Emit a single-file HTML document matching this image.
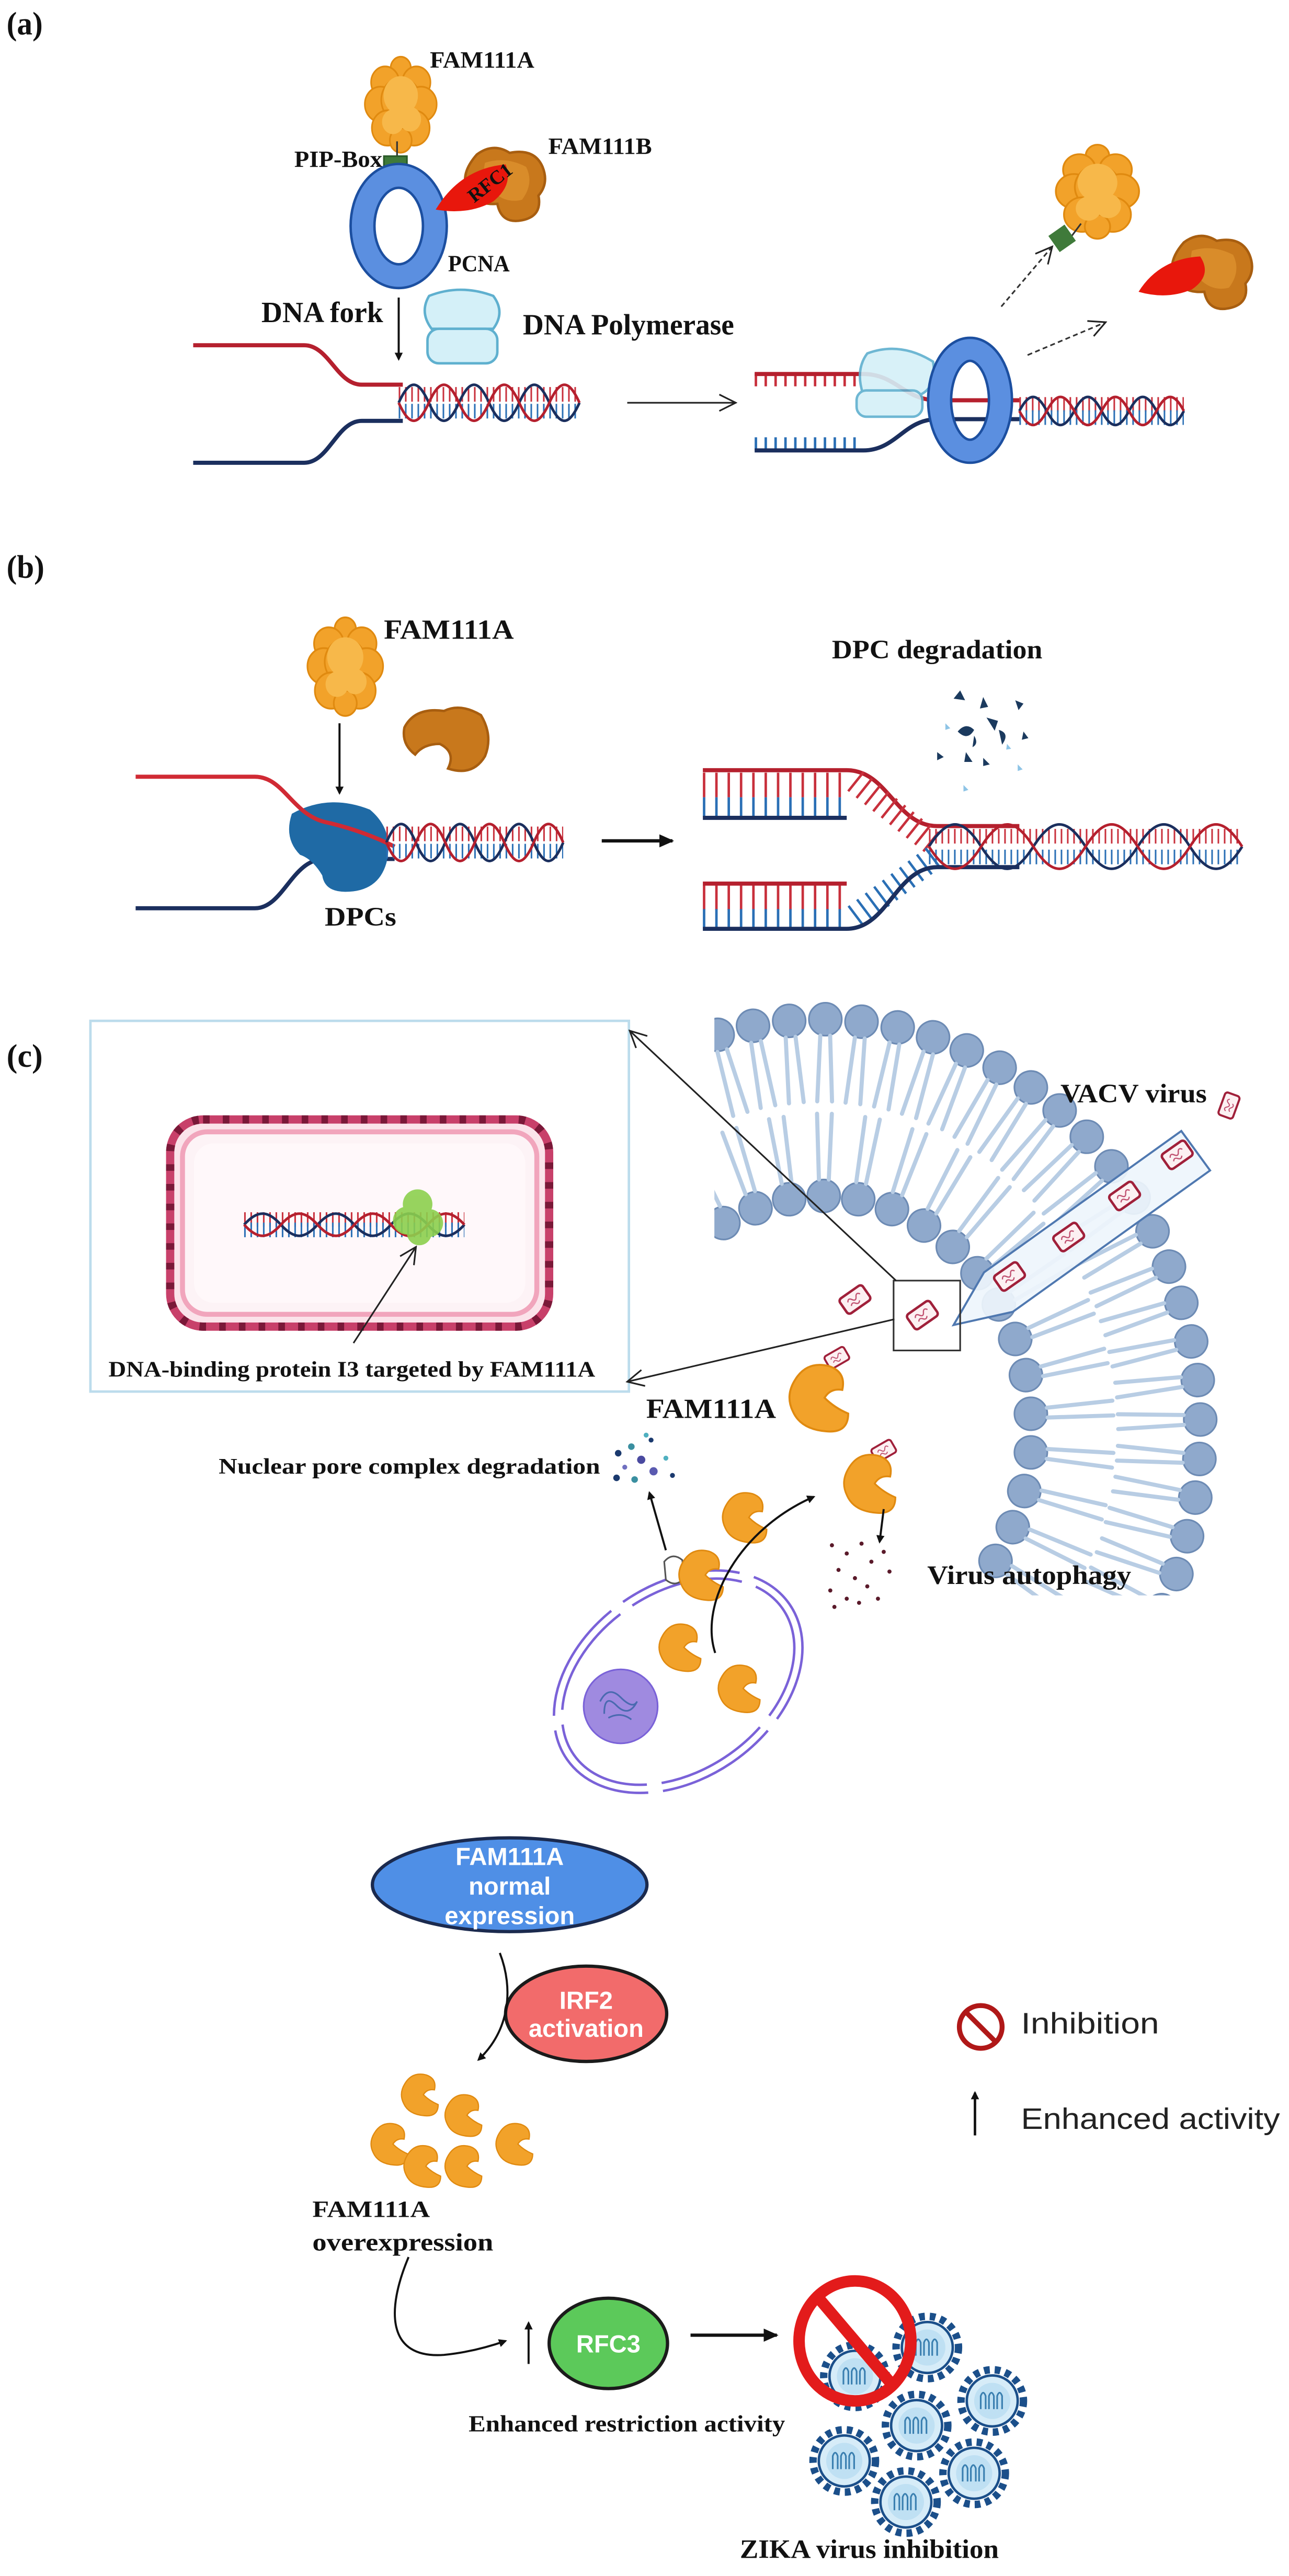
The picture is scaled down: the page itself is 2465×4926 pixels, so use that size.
<!DOCTYPE html>
<html><head><meta charset="utf-8"><style>
html,body{margin:0;padding:0;background:#fff}
svg{display:block}
.s{font-family:"Liberation Serif",serif;font-weight:bold;fill:#111}
.w{font-family:"Liberation Sans",sans-serif;font-weight:bold;fill:#fff;text-anchor:middle}
.n{font-family:"Liberation Sans",sans-serif;fill:#222}
</style></head><body>
<svg width="2465" height="4926" viewBox="0 0 1568 3134" preserveAspectRatio="none" xmlns="http://www.w3.org/2000/svg">
<defs>
<marker id="ah" markerWidth="10" markerHeight="10" refX="8" refY="5" orient="auto" markerUnits="userSpaceOnUse"><path d="M0,0 L10,5 L0,10 Z" fill="#111"/></marker>
<marker id="ao" markerWidth="24" markerHeight="24" refX="22" refY="12" orient="auto" markerUnits="userSpaceOnUse"><path d="M2,2 L22,12 L2,22" fill="none" stroke="#222" stroke-width="2"/></marker>
<marker id="ab" markerWidth="20" markerHeight="20" refX="16" refY="10" orient="auto" markerUnits="userSpaceOnUse"><path d="M0,2 L18,10 L0,18 Z" fill="#111"/></marker>
<g id="hx">
 <line x1="0" y1="-14" x2="300" y2="-14" stroke="#c8303c" stroke-width="28" stroke-dasharray="3 9" vector-effect="non-scaling-stroke"/>
 <line x1="0" y1="14" x2="300" y2="14" stroke="#2a6fb5" stroke-width="28" stroke-dasharray="3 9" vector-effect="non-scaling-stroke"/>
 <path d="M0,0 C18,-40 32,-40 50,0 S82,40 100,0 S132,-40 150,0 S182,40 200,0 S232,-40 250,0 S282,40 300,0" fill="none" stroke="#1b2f5e" stroke-width="5" vector-effect="non-scaling-stroke"/>
 <path d="M0,0 C18,40 32,40 50,0 S82,-40 100,0 S132,40 150,0 S182,-40 200,0 S232,40 250,0 S282,-40 300,0" fill="none" stroke="#b5202e" stroke-width="5" vector-effect="non-scaling-stroke"/>
</g>
<g id="famA">
 <g fill="#f2a22a" stroke="#e08a10" stroke-width="2">
 <circle cx="50" cy="14" r="13"/><circle cx="30" cy="30" r="18"/><circle cx="70" cy="30" r="18"/>
 <circle cx="24" cy="55" r="20"/><circle cx="50" cy="50" r="25"/><circle cx="76" cy="55" r="20"/>
 <circle cx="33" cy="82" r="20"/><circle cx="67" cy="82" r="20"/><circle cx="50" cy="96" r="14"/></g>
 <g fill="#f7b84a"><circle cx="50" cy="45" r="22"/><circle cx="40" cy="75" r="14"/><circle cx="62" cy="72" r="14"/></g>
</g>
<g id="famB">
 <path d="M20,10 Q40,-5 60,8 Q90,2 100,25 Q108,45 95,60 Q100,85 75,90 Q50,95 45,70 Q20,72 10,55 Q-2,35 20,10Z" fill="#c8781c" stroke="#a85e10" stroke-width="3"/>
 <path d="M30,20 Q55,12 80,25 Q90,45 75,65 Q55,70 40,55 Q25,40 30,20Z" fill="#d98c2a"/>
</g>
<path id="bean" d="M10,20 Q22,0 45,6 Q62,12 58,30 Q46,28 40,38 Q50,48 64,54 Q64,74 42,72 Q16,70 8,52 Q0,36 10,20Z" fill="#f2a22a" stroke="#e08a10" stroke-width="2"/>
<g id="vac"><rect x="-17" y="-11" width="34" height="22" rx="4" fill="#fcf0f2" stroke="#a0203a" stroke-width="3"/><path d="M-9,-2 q3,-5 6,0 t6,0 t6,0 M-8,4 q3,-4 6,0 t6,0" fill="none" stroke="#c05070" stroke-width="1.5"/></g>
<g id="lip"><circle cx="0" cy="0" r="20" fill="#8fa9cc" stroke="#6d8bb4" stroke-width="2"/><path d="M20,-6 L100,-9 M20,6 L100,9" stroke="#b8cde4" stroke-width="5" stroke-linecap="round"/></g>
<g id="zk"><circle r="38" fill="none" stroke="#1b4f8a" stroke-width="9" stroke-dasharray="7 6"/><circle r="31" fill="#d6ecf8" stroke="#1b4f8a" stroke-width="3"/><circle r="22" fill="#bfe0f3"/><path d="M-14,10 V-6 q3,-8 6,0 V10 M-4,10 V-6 q3,-8 6,0 V10 M6,10 V-6 q3,-8 6,0 V10" fill="none" stroke="#3a7fb0" stroke-width="2"/></g>
<clipPath id="mc"><rect x="869" y="1180" width="660" height="761"/></clipPath>
</defs>

<!-- (a) -->
<text class="s" x="8" y="42" font-size="40" textLength="44" lengthAdjust="spacingAndGlyphs">(a)</text>
<use href="#famA" transform="translate(440,68) scale(0.95,1.07)"/>
<line x1="483" y1="172" x2="483" y2="192" stroke="#333" stroke-width="2"/>
<rect x="467" y="190" width="28" height="28" fill="#3f7a3a" stroke="#2a5a28" stroke-width="2"/>
<text class="s" x="523" y="82" font-size="28" textLength="127" lengthAdjust="spacingAndGlyphs">FAM111A</text>
<text class="s" x="358" y="203" font-size="28" textLength="107" lengthAdjust="spacingAndGlyphs">PIP-Box</text>
<ellipse cx="485" cy="275" rx="44" ry="61" fill="none" stroke="#1c4fa0" stroke-width="32"/>
<ellipse cx="485" cy="275" rx="44" ry="61" fill="none" stroke="#5b8fe0" stroke-width="26"/>
<use href="#famB" transform="translate(560,178)"/>
<path d="M530,255 Q560,205 615,200 Q625,225 600,245 Q570,262 530,255Z" fill="#e8170c"/>
<text x="575" y="248" font-size="24" transform="rotate(-38 575 245)" class="s" fill="#111">RFC1</text>
<text class="s" x="667" y="187" font-size="28" textLength="126" lengthAdjust="spacingAndGlyphs">FAM111B</text>
<text class="s" x="545" y="330" font-size="28" textLength="75" lengthAdjust="spacingAndGlyphs">PCNA</text>
<line x1="485" y1="362" x2="485" y2="437" stroke="#111" stroke-width="2.5" marker-end="url(#ah)"/>
<text class="s" x="318" y="392" font-size="36" textLength="148" lengthAdjust="spacingAndGlyphs">DNA fork</text>
<g stroke="#5fb0cf" stroke-width="3" fill="#d4f0f8"><path d="M522,360 Q560,345 600,360 Q615,380 600,400 L525,400 Q510,380 522,360Z"/><rect x="520" y="400" width="85" height="42" rx="14"/></g>
<text class="s" x="636" y="407" font-size="36" textLength="257" lengthAdjust="spacingAndGlyphs">DNA Polymerase</text>
<path d="M235,420 H370 C400,420 410,468 440,468 H490" fill="none" stroke="#b5202e" stroke-width="5"/>
<path d="M235,563 H370 C400,563 410,512 440,512 H490" fill="none" stroke="#1b2f5e" stroke-width="5"/>
<use href="#hx" transform="translate(485,490) scale(0.733,0.73)"/>
<line x1="763" y1="490" x2="895" y2="490" stroke="#222" stroke-width="2" marker-end="url(#ao)"/>
<!-- right a -->
<line x1="918" y1="462" x2="1050" y2="462" stroke="#c8303c" stroke-width="16" stroke-dasharray="3 9"/>
<path d="M918,455 H1050 C1090,455 1100,487 1140,487 H1240" fill="none" stroke="#b5202e" stroke-width="5"/>
<line x1="918" y1="540" x2="1050" y2="540" stroke="#2a6fb5" stroke-width="16" stroke-dasharray="3 9"/>
<path d="M918,548 H1050 C1090,548 1100,510 1140,510 H1240" fill="none" stroke="#1b2f5e" stroke-width="5"/>
<g stroke="#5fb0cf" stroke-width="3" fill="#d4f0f8" opacity="0.9"><path d="M1055,430 Q1095,415 1135,440 Q1140,470 1120,480 L1050,480 Q1040,450 1055,430Z"/><rect x="1042" y="475" width="80" height="32" rx="12"/></g>
<ellipse cx="1180" cy="487" rx="37" ry="62" fill="none" stroke="#1c4fa0" stroke-width="31"/>
<ellipse cx="1180" cy="487" rx="37" ry="62" fill="none" stroke="#5b8fe0" stroke-width="25"/>
<use href="#hx" transform="translate(1240,500) scale(0.667,0.57)"/>
<line x1="1218" y1="373" x2="1280" y2="300" stroke="#333" stroke-width="2" stroke-dasharray="6 4" marker-end="url(#ao)"/>
<line x1="1250" y1="432" x2="1345" y2="392" stroke="#333" stroke-width="2" stroke-dasharray="6 4" marker-end="url(#ao)"/>
<use href="#famA" transform="translate(1280,175) scale(1.1,1.05)"/>
<line x1="1300" y1="292" x2="1315" y2="272" stroke="#333" stroke-width="2"/>
<rect x="1280" y="278" width="24" height="24" fill="#3f7a3a" transform="rotate(-35 1292 290)"/>
<use href="#famB" transform="translate(1420,285) scale(1.0,1.0)"/>
<path d="M1385,355 Q1410,315 1460,312 Q1475,335 1450,352 Q1420,365 1385,355Z" fill="#e8170c"/>

<!-- (b) -->
<text class="s" x="8" y="703" font-size="40" textLength="46" lengthAdjust="spacingAndGlyphs">(b)</text>
<use href="#famA" transform="translate(370,750) scale(1.0,1.1)"/>
<text class="s" x="467" y="777" font-size="34" textLength="158" lengthAdjust="spacingAndGlyphs">FAM111A</text>
<path d="M492,885 Q505,860 540,865 Q560,855 585,870 Q600,895 590,920 Q575,945 545,935 Q555,915 535,905 Q515,905 505,918 Q488,905 492,885Z" fill="#c8781c" stroke="#a85e10" stroke-width="3"/>
<line x1="413" y1="880" x2="413" y2="965" stroke="#111" stroke-width="2.5" marker-end="url(#ah)"/>
<path d="M165,1105 H310 C345,1105 355,1045 395,1045 H480" fill="none" stroke="#1b2f5e" stroke-width="5"/>
<path d="M355,990 Q400,965 450,985 Q480,1010 470,1050 Q460,1085 420,1085 Q395,1085 392,1065 Q380,1045 365,1040 Q345,1020 355,990Z" fill="#1f6aa5"/>
<path d="M165,945 H310 C345,945 355,990 395,1000 Q440,1010 480,1030" fill="none" stroke="#d02a34" stroke-width="5"/>
<use href="#hx" transform="translate(470,1025) scale(0.717,0.75)"/>
<text class="s" x="395" y="1126" font-size="32" textLength="87" lengthAdjust="spacingAndGlyphs">DPCs</text>
<line x1="732" y1="1023" x2="818" y2="1023" stroke="#111" stroke-width="4" marker-end="url(#ab)"/>
<text class="s" x="1012" y="801" font-size="32" textLength="256" lengthAdjust="spacingAndGlyphs">DPC degradation</text>
<g fill="#1b3a5e"><path d="M1160,850 l8,-10 l6,12z"/><path d="M1196,848 l6,12 l-10,2z"/><path d="M1235,852 l10,4 l-6,8z"/><path d="M1165,890 q10,-12 20,-2 q-8,14 -20,2z"/><path d="M1200,873 l14,4 l-4,12 z"/><path d="M1215,888 q14,4 4,18 z"/><path d="M1140,915 l8,6 l-8,4z"/><path d="M1175,915 l8,12 l-10,0z"/><path d="M1196,922 l8,8 l-8,2z"/><path d="M1245,890 l6,8 l-8,2z"/><path d="M1185,895 q6,10 -2,14 z"/></g>
<g fill="#8ec4e6"><path d="M1150,880 l6,6 l-6,2z"/><path d="M1172,955 l6,6 l-6,2z"/><path d="M1238,930 l6,6 l-6,2z"/><path d="M1225,905 l5,6 l-6,1z"/></g>
<line x1="855" y1="955" x2="1030" y2="955" stroke="#c8303c" stroke-width="30" stroke-dasharray="3 12"/>
<line x1="855" y1="982" x2="1030" y2="982" stroke="#2a6fb5" stroke-width="24" stroke-dasharray="3 12"/>
<path d="M855,937 H1030 C1080,937 1090,1005 1140,1005 H1240" fill="none" stroke="#b5202e" stroke-width="5"/>
<path d="M1040,950 L1140,1030" stroke="#c8303c" stroke-width="30" stroke-dasharray="3 10"/>
<line x1="855" y1="995" x2="1030" y2="995" stroke="#1b2f5e" stroke-width="5"/>
<line x1="855" y1="1092" x2="1030" y2="1092" stroke="#c8303c" stroke-width="30" stroke-dasharray="3 12"/>
<line x1="855" y1="1118" x2="1030" y2="1118" stroke="#2a6fb5" stroke-width="24" stroke-dasharray="3 12"/>
<line x1="855" y1="1075" x2="1030" y2="1075" stroke="#b5202e" stroke-width="5"/>
<path d="M1040,1115 L1140,1040" stroke="#2a6fb5" stroke-width="30" stroke-dasharray="3 10"/>
<path d="M855,1130 H1030 C1080,1130 1090,1055 1140,1055 H1240" fill="none" stroke="#1b2f5e" stroke-width="5"/>
<use href="#hx" transform="translate(1130,1030) scale(1.27,0.9)"/>

<!-- (c) -->
<text class="s" x="8" y="1298" font-size="40" textLength="44" lengthAdjust="spacingAndGlyphs">(c)</text>
<rect x="110" y="1242" width="655" height="451" fill="#fff" stroke="#bcdcec" stroke-width="3"/>
<rect x="207" y="1362" width="461" height="252" rx="40" fill="#fbe3ea" stroke="#c8406a" stroke-width="10"/>
<rect x="207" y="1362" width="461" height="252" rx="40" fill="none" stroke="#7a1838" stroke-width="10" stroke-dasharray="8 16"/>
<rect x="222" y="1377" width="431" height="222" rx="30" fill="#fdf3f6" stroke="#f1a5bc" stroke-width="6"/>
<rect x="236" y="1391" width="403" height="194" rx="24" fill="#fff8fa"/>
<use href="#hx" transform="translate(297,1490) scale(0.893,0.45)"/>
<g fill="#8ccf4e" opacity="0.9"><circle cx="508" cy="1465" r="18"/><circle cx="495" cy="1485" r="17"/><circle cx="522" cy="1488" r="17"/><circle cx="510" cy="1500" r="15"/></g>
<line x1="430" y1="1634" x2="506" y2="1517" stroke="#222" stroke-width="2" marker-end="url(#ao)"/>
<text class="s" x="132" y="1675" font-size="27" textLength="592" lengthAdjust="spacingAndGlyphs">DNA-binding protein I3 targeted by FAM111A</text>

<!-- membrane -->
<g clip-path="url(#mc)">
<g>
<use href="#lip" transform="translate(873,1259) rotate(74)"/>
<use href="#lip" transform="translate(916,1248) rotate(79.5)"/>
<use href="#lip" transform="translate(960,1242) rotate(85)"/>
<use href="#lip" transform="translate(1004,1240) rotate(90.5)"/>
<use href="#lip" transform="translate(1048,1243) rotate(96)"/>
<use href="#lip" transform="translate(1092,1250) rotate(101.5)"/>
<use href="#lip" transform="translate(1135,1262) rotate(107)"/>
<use href="#lip" transform="translate(1176,1278) rotate(112.5)"/>
<use href="#lip" transform="translate(1216,1299) rotate(118)"/>
<use href="#lip" transform="translate(1254,1323) rotate(123.5)"/>
<use href="#lip" transform="translate(1289,1351) rotate(129)"/>
<use href="#lip" transform="translate(1322,1383) rotate(134.5)"/>
<use href="#lip" transform="translate(1352,1419) rotate(140)"/>
<use href="#lip" transform="translate(1379,1457) rotate(145.5)"/>
<use href="#lip" transform="translate(1402,1498) rotate(151)"/>
<use href="#lip" transform="translate(1422,1541) rotate(156.5)"/>
<use href="#lip" transform="translate(1437,1585) rotate(162)"/>
<use href="#lip" transform="translate(1449,1632) rotate(167.5)"/>
<use href="#lip" transform="translate(1457,1679) rotate(173)"/>
<use href="#lip" transform="translate(1460,1727) rotate(178.5)"/>
<use href="#lip" transform="translate(1459,1775) rotate(184)"/>
<use href="#lip" transform="translate(1454,1822) rotate(189.5)"/>
<use href="#lip" transform="translate(1444,1869) rotate(195)"/>
<use href="#lip" transform="translate(1431,1915) rotate(200.5)"/>
<use href="#lip" transform="translate(1413,1959) rotate(206)"/>
</g>
<g>
<use href="#lip" transform="translate(880,1488) rotate(-118)"/>
<use href="#lip" transform="translate(919,1470) rotate(-108.5)"/>
<use href="#lip" transform="translate(960,1459) rotate(-99)"/>
<use href="#lip" transform="translate(1002,1455) rotate(-89.5)"/>
<use href="#lip" transform="translate(1044,1459) rotate(-80)"/>
<use href="#lip" transform="translate(1085,1471) rotate(-70.5)"/>
<use href="#lip" transform="translate(1124,1491) rotate(-61)"/>
<use href="#lip" transform="translate(1159,1517) rotate(-51.5)"/>
<use href="#lip" transform="translate(1189,1549) rotate(-42)"/>
<use href="#lip" transform="translate(1215,1587) rotate(-32.5)"/>
<use href="#lip" transform="translate(1235,1629) rotate(-23)"/>
<use href="#lip" transform="translate(1248,1673) rotate(-13.5)"/>
<use href="#lip" transform="translate(1254,1720) rotate(-4)"/>
<use href="#lip" transform="translate(1254,1767) rotate(5.5)"/>
<use href="#lip" transform="translate(1246,1814) rotate(15)"/>
<use href="#lip" transform="translate(1232,1858) rotate(24.5)"/>
<use href="#lip" transform="translate(1211,1899) rotate(34)"/>
</g>
</g>
<polygon points="1437,1376 1472,1424 1232,1596 1160,1612 1197,1548" fill="#eef5fc" fill-opacity="0.92" stroke="#4f78b0" stroke-width="2.5"/>
<use href="#vac" transform="translate(1432,1405) rotate(-35)"/>
<use href="#vac" transform="translate(1368,1455) rotate(-35)"/>
<use href="#vac" transform="translate(1300,1505) rotate(-35)"/>
<use href="#vac" transform="translate(1228,1553) rotate(-35)"/>
<use href="#vac" transform="translate(1495,1345) rotate(-70) scale(0.85)"/>
<use href="#vac" transform="translate(1040,1581) rotate(-35)"/>
<rect x="1087" y="1558" width="81" height="85" fill="none" stroke="#333" stroke-width="2"/>
<use href="#vac" transform="translate(1122,1600) rotate(-35)"/>
<line x1="1090" y1="1558" x2="766" y2="1254" stroke="#222" stroke-width="2" marker-end="url(#ao)"/>
<line x1="1088" y1="1605" x2="763" y2="1681" stroke="#222" stroke-width="2" marker-end="url(#ao)"/>
<text class="s" x="1290" y="1341" font-size="32" textLength="178" lengthAdjust="spacingAndGlyphs">VACV virus</text>

<use href="#vac" transform="translate(1018,1652) rotate(-30) scale(0.8)"/>
<use href="#bean" transform="translate(955,1655) scale(1.2)"/>
<text class="s" x="786" y="1725" font-size="34" textLength="158" lengthAdjust="spacingAndGlyphs">FAM111A</text>
<text class="s" x="266" y="1793" font-size="27" textLength="464" lengthAdjust="spacingAndGlyphs">Nuclear pore complex degradation</text>
<g><circle cx="752" cy="1768" r="4" fill="#1b3a6e"/><circle cx="768" cy="1760" r="4" fill="#3a8fa0"/><circle cx="780" cy="1776" r="5" fill="#4a4aa0"/><circle cx="792" cy="1752" r="3" fill="#1b3a6e"/><circle cx="795" cy="1790" r="5" fill="#5a5ab0"/><circle cx="750" cy="1798" r="4" fill="#1b3a6e"/><circle cx="772" cy="1800" r="4" fill="#3a8fa0"/><circle cx="810" cy="1774" r="3" fill="#4fb0c0"/><circle cx="818" cy="1795" r="3" fill="#1b3a6e"/><circle cx="786" cy="1746" r="3" fill="#4fb0c0"/><circle cx="760" cy="1785" r="3" fill="#7070c0"/></g>
<use href="#vac" transform="translate(1075,1765) rotate(-30) scale(0.8)"/>
<use href="#bean" transform="translate(1022,1765) scale(1.05)"/>
<line x1="1075" y1="1836" x2="1070" y2="1876" stroke="#111" stroke-width="2.5" marker-end="url(#ah)"/>
<g fill="#5a1a2a"><circle cx="1012" cy="1880" r="2.5"/><circle cx="1030" cy="1890" r="2.5"/><circle cx="1048" cy="1878" r="2.5"/><circle cx="1060" cy="1900" r="2.5"/><circle cx="1020" cy="1910" r="2.5"/><circle cx="1040" cy="1920" r="2.5"/><circle cx="1075" cy="1888" r="2.5"/><circle cx="1010" cy="1935" r="2.5"/><circle cx="1030" cy="1945" r="2.5"/><circle cx="1055" cy="1930" r="2.5"/><circle cx="1082" cy="1912" r="2.5"/><circle cx="1015" cy="1955" r="2.5"/><circle cx="1045" cy="1950" r="2.5"/><circle cx="1068" cy="1945" r="2.5"/></g>
<text class="s" x="1128" y="1927" font-size="32" textLength="248" lengthAdjust="spacingAndGlyphs">Virus autophagy</text>
<!-- cell -->
<g transform="rotate(-35 825 2046)" fill="none" stroke="#7a62d8" stroke-width="3">
<ellipse cx="825" cy="2046" rx="165" ry="118" stroke-dasharray="150 18"/>
<ellipse cx="825" cy="2046" rx="155" ry="108" stroke-dasharray="140 18"/>
</g>
<circle cx="755" cy="2076" r="45" fill="#9f8ae0" stroke="#7a62d8" stroke-width="2"/>
<path d="M730,2070 q10,-20 25,-5 t20,5 q-10,20 -25,5 t-15,10 M740,2090 q15,-8 28,2" fill="none" stroke="#4a6ab0" stroke-width="2"/>
<path d="M808,1900 q10,-12 22,-2 l2,22 q-10,12 -22,2z" fill="#fff" stroke="#555" stroke-width="2"/>
<use href="#bean" transform="translate(822,1882) scale(0.9)"/>
<use href="#bean" transform="translate(875,1812) scale(0.9)"/>
<use href="#bean" transform="translate(798,1972) scale(0.85)"/>
<use href="#bean" transform="translate(870,2022) scale(0.85)"/>
<line x1="810" y1="1886" x2="790" y2="1816" stroke="#111" stroke-width="2.5" marker-end="url(#ah)"/>
<path d="M870,2011 C850,1950 900,1860 990,1821" fill="none" stroke="#111" stroke-width="2.5" marker-end="url(#ah)"/>

<!-- bottom flow -->
<ellipse cx="620" cy="2293" rx="167" ry="57" fill="#4f8fe6" stroke="#1b2a4e" stroke-width="4"/>
<text class="w" x="620" y="2269" font-size="30">FAM111A</text>
<text class="w" x="620" y="2305" font-size="30">normal</text>
<text class="w" x="620" y="2341" font-size="30">expression</text>
<ellipse cx="713" cy="2450" rx="98" ry="58" fill="#f26b6b" stroke="#1b1b1b" stroke-width="4"/>
<text class="w" x="713" y="2444" font-size="30">IRF2</text>
<text class="w" x="713" y="2478" font-size="30">activation</text>
<path d="M608,2376 C625,2420 620,2470 582,2506" fill="none" stroke="#111" stroke-width="2.5" marker-end="url(#ah)"/>
<use href="#bean" transform="translate(485,2520) scale(0.75)"/>
<use href="#bean" transform="translate(538,2545) scale(0.75)"/>
<use href="#bean" transform="translate(448,2580) scale(0.75)"/>
<use href="#bean" transform="translate(488,2607) scale(0.75)"/>
<use href="#bean" transform="translate(538,2607) scale(0.75)"/>
<use href="#bean" transform="translate(600,2580) scale(0.75)"/>
<text class="s" x="380" y="2697" font-size="28" textLength="143" lengthAdjust="spacingAndGlyphs">FAM111A</text>
<text class="s" x="380" y="2738" font-size="30" textLength="220" lengthAdjust="spacingAndGlyphs">overexpression</text>
<path d="M497,2746 C470,2810 470,2870 540,2865 C570,2862 595,2855 615,2848" fill="none" stroke="#111" stroke-width="2.5" marker-end="url(#ah)"/>
<line x1="643" y1="2876" x2="643" y2="2826" stroke="#111" stroke-width="2.5" marker-end="url(#ah)"/>
<ellipse cx="740" cy="2851" rx="72" ry="55" fill="#5cc95a" stroke="#1b1b1b" stroke-width="4"/>
<text class="w" x="740" y="2862" font-size="30">RFC3</text>
<line x1="840" y1="2841" x2="945" y2="2841" stroke="#111" stroke-width="4" marker-end="url(#ab)"/>
<text class="s" x="570" y="2958" font-size="28" textLength="385" lengthAdjust="spacingAndGlyphs">Enhanced restriction activity</text>
<use href="#zk" transform="translate(1128,2856)"/>
<use href="#zk" transform="translate(1040,2891)"/>
<use href="#zk" transform="translate(1207,2921)"/>
<use href="#zk" transform="translate(1115,2951)"/>
<use href="#zk" transform="translate(1027,2994)"/>
<use href="#zk" transform="translate(1185,3009)"/>
<use href="#zk" transform="translate(1102,3044)"/>
<ellipse cx="1040" cy="2848" rx="68" ry="73" fill="none" stroke="#e31b1b" stroke-width="14"/>
<line x1="995" y1="2795" x2="1085" y2="2901" stroke="#e31b1b" stroke-width="14"/>
<text class="s" x="900" y="3112" font-size="32" textLength="315" lengthAdjust="spacingAndGlyphs">ZIKA virus inhibition</text>
<!-- legend -->
<circle cx="1193" cy="2466" r="26" fill="none" stroke="#b01818" stroke-width="6"/>
<line x1="1176" y1="2449" x2="1210" y2="2483" stroke="#b01818" stroke-width="6"/>
<text class="n" x="1242" y="2474" font-size="36" textLength="168" lengthAdjust="spacingAndGlyphs">Inhibition</text>
<line x1="1186" y1="2598" x2="1186" y2="2546" stroke="#111" stroke-width="3" marker-end="url(#ah)"/>
<text class="n" x="1242" y="2590" font-size="36" textLength="315" lengthAdjust="spacingAndGlyphs">Enhanced activity</text>
</svg>
</body></html>
